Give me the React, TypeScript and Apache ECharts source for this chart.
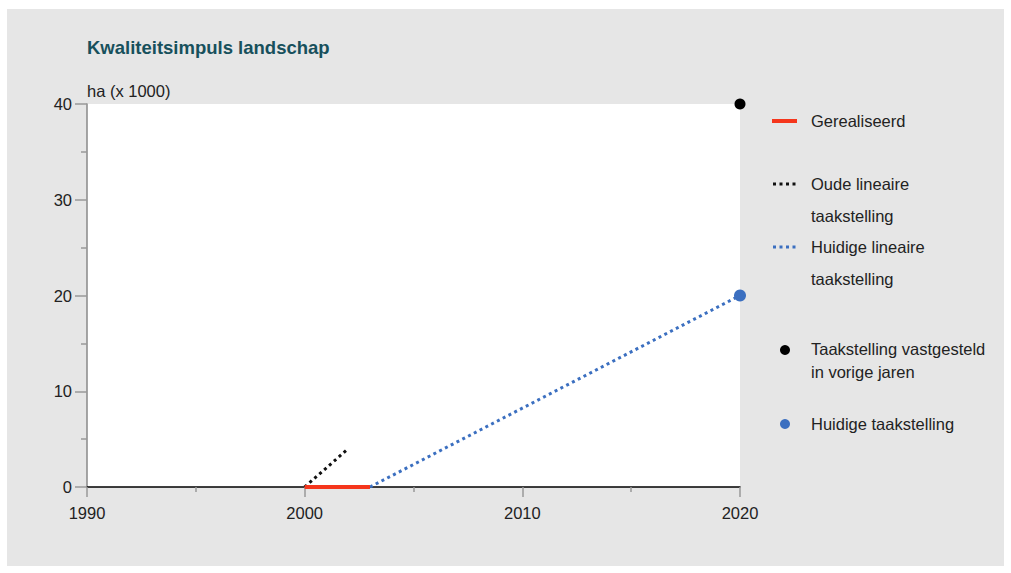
import React, { useEffect, useRef } from "react";
import * as echarts from "echarts";

const realisedYears = [2000, 2003];
const realisedValues = [0, 0];
const oldLinearYears = [2000, 2002];
const oldLinearValues = [0, 4];
const currentLinearYears = [2003, 2020];
const currentLinearValues = [0, 20];
const previousTargetYear = [2020];
const previousTargetValue = [40];
const currentTargetYear = [2020];
const currentTargetValue = [20];
const xTicks = [1990, 2000, 2010, 2020];
const yTicks = [0, 10, 20, 30, 40];

const FONT = "Liberation Sans, Arial, sans-serif";

export default function App() {
  const ref = useRef<HTMLDivElement>(null);
  useEffect(() => {
    if (!ref.current) return;
    const chart = echarts.init(ref.current, undefined, { renderer: "svg" });
    const pair = (xs: number[], ys: number[]) => xs.map((x, i) => [x, ys[i]]);
    const legendText = (x: number, y: number, t: string) => ({
      type: "text",
      left: x,
      top: y - 9,
      style: { text: t, fontSize: 16.5, fill: "#222", fontFamily: FONT },
    });
    chart.setOption({
      animation: false,
      backgroundColor: "#ffffff",
      textStyle: { fontFamily: FONT },
      grid: {
        left: 87,
        right: 271,
        top: 104,
        bottom: 86,
        show: true,
        backgroundColor: "#ffffff",
        borderWidth: 0,
      },
      xAxis: {
        type: "value",
        min: xTicks[0],
        max: xTicks[xTicks.length - 1],
        interval: 10,
        axisLine: { show: true, onZero: false, lineStyle: { color: "#000", width: 1.5 } },
        axisTick: { show: true, length: 10, lineStyle: { color: "#999", width: 1.5 } },
        minorTick: { show: true, splitNumber: 2, length: 5, lineStyle: { color: "#999", width: 1.5 } },
        splitLine: { show: false },
        axisLabel: { fontSize: 16.5, color: "#222", margin: 17, fontFamily: FONT, formatter: (v: number) => String(v) },
      },
      yAxis: {
        type: "value",
        min: yTicks[0],
        max: yTicks[yTicks.length - 1],
        interval: 10,
        axisLine: { show: true, lineStyle: { color: "#888", width: 1.5 } },
        axisTick: { show: true, length: 12, lineStyle: { color: "#999", width: 1.5 } },
        minorTick: { show: true, splitNumber: 2, length: 6, lineStyle: { color: "#999", width: 1.5 } },
        splitLine: { show: false },
        axisLabel: { fontSize: 16.5, color: "#222", margin: 15, fontFamily: FONT },
      },
      graphic: [
        {
          type: "rect",
          z: -10,
          silent: true,
          shape: { x: 7, y: 9, width: 997, height: 557 },
          style: { fill: "#e6e6e6" },
        },
        {
          type: "text",
          left: 87,
          top: 38,
          style: { text: "Kwaliteitsimpuls landschap", fontSize: 18.5, fontWeight: "bold", fill: "#17505c", fontFamily: FONT },
        },
        {
          type: "text",
          left: 87,
          top: 82,
          style: { text: "ha (x 1000)", fontSize: 16.5, fill: "#222", fontFamily: FONT },
        },
        { type: "line", shape: { x1: 772, y1: 121, x2: 797, y2: 121 }, style: { stroke: "#f5361c", lineWidth: 4 } },
        legendText(811, 121, "Gerealiseerd"),
        { type: "line", shape: { x1: 773, y1: 184, x2: 797, y2: 184 }, style: { stroke: "#111", lineWidth: 3, lineDash: [3, 3.5] } },
        legendText(811, 184, "Oude lineaire"),
        legendText(811, 216, "taakstelling"),
        { type: "line", shape: { x1: 773, y1: 247, x2: 797, y2: 247 }, style: { stroke: "#3b6fc0", lineWidth: 3, lineDash: [3, 3.5] } },
        legendText(811, 247, "Huidige lineaire"),
        legendText(811, 279, "taakstelling"),
        { type: "circle", shape: { cx: 785, cy: 350, r: 5 }, style: { fill: "#000" } },
        legendText(811, 349, "Taakstelling vastgesteld"),
        legendText(811, 372, "in vorige jaren"),
        { type: "circle", shape: { cx: 785, cy: 424, r: 5 }, style: { fill: "#3b6fc0" } },
        legendText(811, 424, "Huidige taakstelling"),
      ],
      series: [
        {
          name: "Oude lineaire taakstelling",
          type: "line",
          data: pair(oldLinearYears, oldLinearValues),
          symbol: "none",
          lineStyle: { color: "#111", width: 3, type: [3, 3.5] },
          z: 3,
        },
        {
          name: "Huidige lineaire taakstelling",
          type: "line",
          data: pair(currentLinearYears, currentLinearValues),
          symbol: "none",
          lineStyle: { color: "#3b6fc0", width: 3, type: [3, 3.5] },
          z: 3,
        },
        {
          name: "Gerealiseerd",
          type: "line",
          data: pair(realisedYears, realisedValues),
          symbol: "none",
          lineStyle: { color: "#f5361c", width: 4 },
          z: 4,
        },
        {
          name: "Taakstelling vastgesteld in vorige jaren",
          type: "scatter",
          data: pair(previousTargetYear, previousTargetValue),
          symbolSize: 11,
          itemStyle: { color: "#000", opacity: 1 },
          clip: false,
          z: 5,
        },
        {
          name: "Huidige taakstelling",
          type: "scatter",
          data: pair(currentTargetYear, currentTargetValue),
          symbolSize: 12,
          itemStyle: { color: "#3b6fc0", opacity: 1 },
          clip: false,
          z: 5,
        },
      ],
    });
    return () => chart.dispose();
  }, []);
  return (
    <div
      ref={ref}
      style={{ position: "absolute", left: 0, top: 0, width: 1011, height: 573 }}
    />
  );
}
